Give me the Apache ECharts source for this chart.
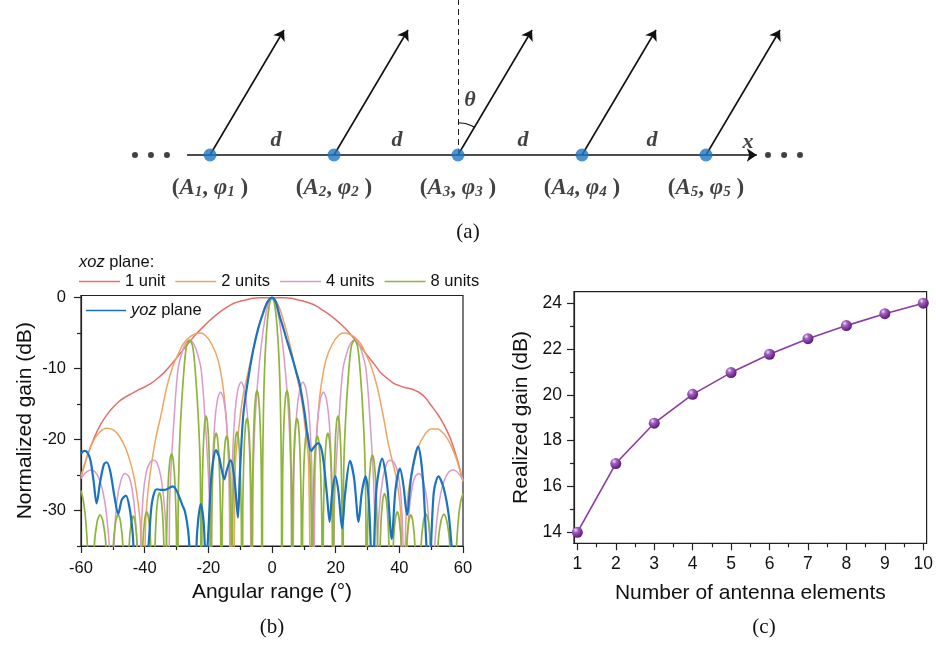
<!DOCTYPE html>
<html><head><meta charset="utf-8">
<script src="https://cdn.jsdelivr.net/npm/echarts@6/dist/echarts.min.js"></script>
<style>html,body{margin:0;padding:0;background:#fff}#c{width:936px;height:646px}</style>
</head><body><div id="c"></div>
<script>
// ---------------- (a) schematic data ----------------
const elemX = [1, 2, 3, 4, 5];              // element index positions (units of d)
const elemIdx = ['1', '2', '3', '4', '5'];
const arrowDX = 0.597, arrowDY = 1.008;     // beam direction offset
const dotsLeft = [0.395, 0.524, 0.653];
const dotsRight = [5.5, 5.63, 5.758];
const dLabelX = [1.532, 2.508, 3.524, 4.565];
const arcPts = [[3, 0.26], [3.045, 0.256], [3.089, 0.244], [3.13, 0.225]];

// ---------------- (b) radiation patterns ----------------
const xTicksB = [-60, -40, -20, 0, 20, 40, 60];
const xMinorB = [-50, -30, -10, 10, 30, 50];
const yTicksB = [-30, -20, -10, 0];
const yMinorB = [-35, -25, -15, -5];

const unit1 = [[-60,-25.2],[-58,-22.3],[-56,-19.9],[-54,-18.0],[-52,-16.6],[-50,-15.5],[-48,-14.6],[-46,-14.0],[-44,-13.5],[-42,-13.0],[-40,-12.6],[-38,-12.1],[-36,-11.4],[-34,-10.6],[-32,-9.6],[-30,-8.5],[-28,-7.4],[-26,-6.3],[-24,-5.2],[-22,-4.3],[-20,-3.4],[-18,-2.6],[-16,-1.9],[-14,-1.3],[-12,-0.8],[-10,-0.5],[-8,-0.3],[-6,-0.1],[-4,0],[-2,0],[0,0],
[2,0],[4,0],[6,-0.1],[8,-0.3],[10,-0.5],[12,-0.8],[14,-1.2],[16,-1.8],[18,-2.4],[20,-3.1],[22,-3.9],[24,-4.8],[26,-5.9],[28,-7.0],[30,-8.2],[32,-9.3],[34,-10.5],[36,-11.3],[38,-12.0],[40,-12.4],[42,-12.7],[44,-12.9],[46,-13.3],[48,-14.0],[50,-15.2],[52,-16.4],[54,-17.9],[56,-19.8],[58,-22.5],[60,-25.9]];

const unit2 = [[-60,-25.2],[-58,-22.2],[-56,-20.1],[-54,-18.9],[-52,-18.4],[-50,-18.6],[-48,-19.5],[-46,-21.2],[-44,-24.0],[-42.5,-27.5],[-41.3,-32.5],[-40.5,-60],[-39.8,-33],[-39,-27.5],[-37.9,-23.6],[-36.5,-19.8],[-35,-16.8],[-33,-12.5],[-31,-9.5],[-29.5,-8.0],[-28,-6.6],[-26,-5.6],[-24,-5.1],[-22.5,-5.0],[-21,-5.3],[-19,-6.5],[-17,-8.7],[-15.5,-12.2],[-14.5,-16.3],[-13.5,-23.5],[-12.5,-60],[-11.5,-23.5],[-10.2,-17.5],[-9,-13.6],[-7.5,-10.5],[-6,-7.3],[-4,-3.8],[-2,-1.1],[0,0],
[2,-1.1],[4,-3.8],[6,-7.3],[7.5,-10.5],[9,-13.6],[10.2,-17.5],[11.5,-23.5],[12.5,-60],[13.5,-23.5],[14.5,-16.3],[15.5,-12.2],[17,-8.7],[19,-6.5],[21,-5.3],[22.5,-5.0],[24,-5.1],[26,-5.6],[28,-6.6],[29.5,-8.0],[31,-9.5],[33,-12.5],[35,-16.8],[36.5,-20.5],[37.9,-23.2],[39.3,-26],[40.5,-31],[41.3,-60],[42,-32],[42.8,-27.5],[44,-24.5],[46,-21.0],[48,-19.3],[50,-18.5],[52,-18.5],[54,-19.2],[56,-20.6],[58,-22.8],[60,-25.9]];

const unit4 = [[-60,-25.5],[-59,-24.9],[-58,-24.5],[-57,-24.3],[-56,-24.4],[-55,-24.9],[-54,-25.9],[-53,-27.6],[-52,-30.5],[-51,-36],[-50.3,-60],[-49.6,-35],[-48.8,-29],[-47.6,-26],[-46.2,-24.8],[-45,-25.2],[-44,-26.8],[-43,-30.5],[-42.3,-37],[-41.8,-60],[-41.2,-35],[-40.5,-28],[-39.5,-24.6],[-38.3,-23.2],[-37.2,-22.9],[-36.1,-23.3],[-34.8,-25.5],[-33.6,-30.5],[-33.0,-38],[-32.6,-60],[-32.2,-30],[-31.7,-24],[-30.8,-17.3],[-29.5,-10],[-27.9,-7.2],[-26.9,-6.3],[-25.9,-6.0],[-24.9,-6.3],[-23.9,-7.2],[-22.3,-10],[-21.0,-17.3],[-20.1,-24],[-19.6,-30],[-19.3,-60],[-18.86,-26.5],[-18.04,-17.9],[-17.1,-14.3],[-16.15,-13.3],[-15.2,-14.3],[-14.26,-17.9],[-13.44,-26.5],[-13.0,-60],[-12.54,-25.1],[-11.68,-16.5],[-10.69,-12.9],[-9.7,-11.9],[-8.71,-12.9],[-7.72,-16.5],[-6.86,-25.1],[-6.4,-60],[-6.1,-30],[-5.5,-19],[-4.5,-11.9],[-3,-5.4],[-1.5,-1.4],[0,0],
[1.5,-1.4],[3,-5.4],[4.5,-11.9],[5.5,-19],[6.1,-30],[6.4,-60],[6.86,-25.1],[7.72,-16.5],[8.71,-12.9],[9.7,-11.9],[10.69,-12.9],[11.68,-16.5],[12.54,-25.1],[13.0,-60],[13.44,-26.5],[14.26,-17.9],[15.2,-14.3],[16.15,-13.3],[17.1,-14.3],[18.04,-17.9],[18.86,-26.5],[19.3,-60],[19.6,-30],[20.1,-24],[21.0,-17.3],[22.3,-10],[23.9,-7.2],[24.9,-6.3],[25.9,-6.0],[26.9,-6.3],[27.9,-7.2],[29.5,-10],[30.8,-17.3],[31.7,-24],[32.2,-30],[32.6,-60],[33.0,-38],[33.6,-30.5],[34.8,-25.5],[36.1,-23.3],[37.2,-22.9],[38.3,-23.2],[39.5,-24.6],[40.5,-28],[41.2,-35],[41.8,-60],[42.3,-37],[43,-30.5],[44,-26.8],[45,-25.2],[46.2,-24.8],[47.6,-26],[48.8,-29],[49.6,-35],[50.3,-60],[51,-36],[52,-30.5],[53,-27.6],[54,-25.9],[55,-24.9],[56,-24.4],[57,-24.3],[58,-24.5],[59,-25.0],[60,-25.7]];

const unit8 = [[-60,-27.2],[-59.2,-28.8],[-58.4,-32],[-57.7,-38],[-57.1,-60],
[-55.86,-35.2],[-54.93,-31.6],[-54.0,-30.6],[-53.07,-31.6],[-52.14,-35.2],[-50.9,-60],
[-49.88,-35.2],[-49.12,-31.6],[-48.35,-30.6],[-47.58,-31.6],[-46.82,-35.2],[-45.8,-60],
[-44.92,-35.4],[-44.26,-31.8],[-43.6,-30.8],[-42.94,-31.8],[-42.28,-35.4],[-41.4,-60],
[-40.58,-34.8],[-39.97,-31.2],[-39.35,-30.2],[-38.74,-31.2],[-38.12,-34.8],[-37.3,-60],
[-37.03,-40.7],[-36.52,-32.1],[-35.94,-28.5],[-35.35,-27.5],[-34.77,-28.5],[-34.18,-32.1],[-33.67,-40.7],[-33.4,-60],
[-33.14,-35.2],[-32.66,-26.6],[-32.1,-23.0],[-31.55,-22.0],[-31.0,-23.0],[-30.44,-26.6],[-29.96,-35.2],[-29.7,-60],
[-29.5,-31],[-29.2,-23],[-28.6,-16.5],[-27.8,-11],[-26.9,-6.9],[-25.9,-6.0],[-24.9,-6.9],[-24.0,-11],[-23.2,-16.5],[-22.6,-23],[-22.4,-31],[-22.2,-60],
[-21.99,-29.9],[-21.6,-21.3],[-21.15,-17.7],[-20.7,-16.7],[-20.25,-17.7],[-19.8,-21.3],[-19.41,-29.9],[-19.2,-60],
[-18.97,-32.3],[-18.54,-23.7],[-18.05,-20.1],[-17.55,-19.1],[-17.05,-20.1],[-16.56,-23.7],[-16.13,-32.3],[-15.9,-60],
[-15.67,-32.7],[-15.24,-24.1],[-14.75,-20.5],[-14.25,-19.5],[-13.75,-20.5],[-13.26,-24.1],[-12.83,-32.7],[-12.6,-60],
[-12.38,-32.1],[-11.96,-23.5],[-11.48,-19.9],[-11.0,-18.9],[-10.52,-19.9],[-10.04,-23.5],[-9.62,-32.1],[-9.4,-60],
[-9.18,-30.2],[-8.78,-21.6],[-8.32,-18.0],[-7.85,-17.0],[-7.38,-18.0],[-6.92,-21.6],[-6.52,-30.2],[-6.3,-60],
[-6.08,-26.3],[-5.66,-17.7],[-5.18,-14.1],[-4.7,-13.1],[-4.22,-14.1],[-3.74,-17.7],[-3.32,-26.3],[-3.1,-60],
[-2.95,-25.4],[-2.65,-15.2],[-2.2,-8.6],[-1.55,-3.9],[-0.8,-0.9],[0,0],
[0.8,-0.9],[1.55,-3.9],[2.2,-8.6],[2.65,-15.2],[2.95,-25.4],[3.1,-60],
[3.32,-26.3],[3.74,-17.7],[4.22,-14.1],[4.7,-13.1],[5.18,-14.1],[5.66,-17.7],[6.08,-26.3],[6.3,-60],
[6.52,-30.2],[6.92,-21.6],[7.38,-18.0],[7.85,-17.0],[8.32,-18.0],[8.78,-21.6],[9.18,-30.2],[9.4,-60],
[9.62,-32.1],[10.04,-23.5],[10.52,-19.9],[11.0,-18.9],[11.48,-19.9],[11.96,-23.5],[12.38,-32.1],[12.6,-60],
[12.83,-32.7],[13.26,-24.1],[13.75,-20.5],[14.25,-19.5],[14.75,-20.5],[15.24,-24.1],[15.67,-32.7],[15.9,-60],
[16.13,-32.3],[16.56,-23.7],[17.05,-20.1],[17.55,-19.1],[18.05,-20.1],[18.54,-23.7],[18.97,-32.3],[19.2,-60],
[19.41,-29.9],[19.8,-21.3],[20.25,-17.7],[20.7,-16.7],[21.15,-17.7],[21.6,-21.3],[21.99,-29.9],[22.2,-60],
[22.4,-31],[22.6,-23],[23.2,-16.5],[24.0,-11],[24.9,-6.9],[25.9,-6.0],[26.9,-6.9],[27.8,-11],[28.6,-16.5],[29.2,-23],[29.5,-31],[29.7,-60],
[29.96,-35.2],[30.44,-26.8],[31.0,-23.2],[31.55,-22.2],[32.1,-23.2],[32.66,-26.8],[33.14,-35.2],[33.4,-60],
[33.67,-40.7],[34.18,-32.2],[34.77,-28.6],[35.35,-27.6],[35.94,-28.6],[36.52,-32.2],[37.03,-40.7],[37.3,-60],
[38.12,-34.8],[38.74,-31.2],[39.35,-30.2],[39.97,-31.2],[40.58,-34.8],[41.4,-60],
[42.28,-35.2],[42.94,-31.6],[43.6,-30.6],[44.26,-31.6],[44.92,-35.2],[45.8,-60],
[46.82,-35.1],[47.58,-31.5],[48.35,-30.5],[49.12,-31.5],[49.88,-35.1],[50.9,-60],
[52.14,-35.1],[53.07,-31.5],[54.0,-30.5],[54.93,-31.5],[55.86,-35.1],[57.1,-60],
[57.7,-38],[58.4,-32],[59.2,-28.9],[60,-27.6]];

const yozPlane = [[-60,-22.0],[-59,-21.6],[-58,-21.8],[-57,-23.0],[-56,-26.0],[-55.1,-29.0],[-54,-26.0],[-52.8,-23.5],[-51.9,-23.2],[-50.8,-24.5],[-49.5,-28],[-48.3,-30.5],[-47.2,-28.5],[-45.9,-27.9],[-44.8,-29.5],[-43.8,-33],[-43,-38],[-41,-42],[-39,-36],[-38,-30],[-37.2,-27.8],[-36.2,-27.0],[-35,-27.1],[-33.6,-27.1],[-32.2,-26.8],[-31.2,-26.6],[-30.2,-27.0],[-29.2,-28.0],[-28.2,-29.2],[-27.3,-30.2],[-26.3,-33],[-25.5,-38],[-24.5,-42],[-23.5,-33],[-22.4,-29.1],[-21.5,-31.5],[-20.7,-38],[-20,-33],[-19,-25],[-17.6,-21.5],[-16.6,-22.5],[-15.8,-24.3],[-15.0,-25.6],[-14.2,-24.3],[-13.0,-22.9],[-12.0,-24.8],[-11.2,-28.5],[-10.7,-31],[-10.1,-25],[-9,-16.4],[-7.5,-11.5],[-5.9,-7.4],[-4.3,-4.3],[-2.8,-2.2],[-1.4,-0.6],[0,0],
[1.2,-0.6],[2.4,-2.6],[3.5,-4.2],[4.6,-5.9],[5.7,-7.5],[6.7,-9.0],[7.7,-10.6],[8.7,-12.2],[9.5,-14.2],[10.3,-16.4],[11.2,-19.5],[12.3,-21.6],[13.3,-21.0],[14.5,-20.5],[15.5,-21.3],[16.3,-23.5],[17.3,-28],[18.1,-31.6],[18.9,-27.5],[19.9,-25.2],[20.9,-27.5],[22.0,-32.5],[23.0,-27.5],[24.5,-23.0],[25.8,-25.5],[27.2,-31.6],[28.2,-27.5],[29.4,-25.2],[30.4,-28.5],[31.6,-40],[32.8,-27],[34.6,-22.7],[36.2,-26.5],[37.6,-34.0],[38.8,-27.0],[40.2,-24.1],[41.3,-26.5],[42.4,-30.6],[43.8,-25],[45.9,-21.0],[47.4,-25.5],[49.3,-40],[50.8,-27.5],[52.3,-25.2],[53.9,-26.8],[55.5,-30.6],[57.8,-40],[58.8,-38],[60,-36]];

// ---------------- (c) realized gain ----------------
const elementsC = [1, 2, 3, 4, 5, 6, 7, 8, 9, 10];
const gainC = [14.0, 17.0, 18.76, 20.02, 20.97, 21.77, 22.45, 23.02, 23.54, 24.0];
const xMinorC = [1.5, 2.5, 3.5, 4.5, 5.5, 6.5, 7.5, 8.5, 9.5];
const yTicksC = [14, 16, 18, 20, 22, 24];
const yMinorC = [15, 17, 19, 21, 23];

// ---------------- chart ----------------
const chart = echarts.init(document.getElementById('c'), null, {renderer: 'canvas'});
const SANS = '"Liberation Sans", Arial, sans-serif';
const SERIF = '"Liberation Serif", "Times New Roman", serif';
const AX = '#222';
const FS_TICK_B = 16.5, FS_TICK_C = 17.5, FS_NAME = 21, FS_LEG = 16.5;

const serifBI = {fontFamily: SERIF, fontStyle: 'italic', fontWeight: 'bold', fontSize: 23, color: '#111'};
const elemLabelData = elemX.map((x, i) => ({
  value: [x, -0.266],
  label: {formatter: '{p|(}{b|A}{s|' + elemIdx[i] + '}{p|, }{b|φ}{s|' + elemIdx[i] + '}{p| )}'}
}));
const textData = dLabelX.map(x => ({value: [x, 0.121], label: {formatter: '{b|d}'}}))
  .concat([{value: [5.339, 0.105], label: {formatter: '{b|x}'}},
           {value: [3.097, 0.444], label: {formatter: '{b|θ}'}}]);

function minorAxis(grid, vals, min, max, pos) {
  return {gridIndex: grid, type: 'value', min: min, max: max, position: pos,
    axisLine: {show: false, onZero: false}, axisLabel: {show: false}, splitLine: {show: false},
    axisTick: {show: true, length: 4, customValues: vals, lineStyle: {color: AX, width: 1.2}}};
}
const legendIcon = 'path://M0,0 L40,0 L40,1.6 L0,1.6 Z';

const option = {
  animation: false,
  backgroundColor: '#fff',
  title: [{text: '{i|xoz} plane:', left: 79, top: 254, padding: 0,
    textStyle: {fontFamily: SANS, fontSize: FS_LEG, fontWeight: 'normal', color: '#111',
      rich: {i: {fontFamily: SANS, fontSize: FS_LEG, fontStyle: 'italic', color: '#111'}}}}],
  legend: [
    {data: ['1 unit', '2 units', '4 units', '8 units'], left: 79, top: 273, itemWidth: 41, itemHeight: 2,
     icon: legendIcon, itemGap: 10, padding: 0, textStyle: {fontFamily: SANS, fontSize: FS_LEG, color: '#111'}},
    {data: ['yoz plane'], left: 86, top: 302, itemWidth: 40, itemHeight: 2.5, padding: 0, icon: legendIcon,
     formatter: n => '{i|yoz} plane',
     textStyle: {fontFamily: SANS, fontSize: FS_LEG, color: '#111',
       rich: {i: {fontFamily: SANS, fontSize: FS_LEG, fontStyle: 'italic', color: '#111'}}}}
  ],
  graphic: [
    {type: 'text', x: 468, y: 232, style: {text: '(a)', font: '21px ' + SERIF, fill: '#111', textAlign: 'center', textVerticalAlign: 'middle'}},
    {type: 'text', x: 272, y: 627, style: {text: '(b)', font: '21px ' + SERIF, fill: '#111', textAlign: 'center', textVerticalAlign: 'middle'}},
    {type: 'text', x: 764, y: 627, style: {text: '(c)', font: '21px ' + SERIF, fill: '#111', textAlign: 'center', textVerticalAlign: 'middle'}}
  ],
  grid: [
    {left: 0, right: 0, top: 0, height: 250},
    {left: 81, right: 473, top: 295.5, bottom: 100, show: true, borderColor: AX, borderWidth: 1.2, backgroundColor: 'transparent'},
    {left: 574, right: 3.3, top: 291.7, bottom: 102.7, show: true, borderColor: AX, borderWidth: 1.2, backgroundColor: 'transparent'}
  ],
  xAxis: [
    {gridIndex: 0, type: 'value', min: -0.6935, max: 6.855, show: false},
    {gridIndex: 1, type: 'value', min: -60, max: 60, position: 'bottom',
     name: 'Angular range (°)', nameLocation: 'middle', nameGap: 36,
     nameTextStyle: {fontFamily: SANS, fontSize: FS_NAME, color: '#111'},
     axisLine: {show: true, onZero: false, lineStyle: {color: AX, width: 1.2}},
     axisTick: {show: true, length: 7, customValues: xTicksB, lineStyle: {color: AX, width: 1.2}},
     axisLabel: {customValues: xTicksB, fontFamily: SANS, fontSize: FS_TICK_B, color: '#111', margin: 14},
     splitLine: {show: false}},
    minorAxis(1, xMinorB, -60, 60, 'bottom'),
    {gridIndex: 2, type: 'value', min: 0.913, max: 10.087, position: 'bottom',
     name: 'Number of antenna elements', nameLocation: 'middle', nameGap: 39,
     nameTextStyle: {fontFamily: SANS, fontSize: FS_NAME, color: '#111'},
     axisLine: {show: true, onZero: false, lineStyle: {color: AX, width: 1.2}},
     axisTick: {show: true, length: 7, customValues: elementsC, lineStyle: {color: AX, width: 1.2}},
     axisLabel: {customValues: elementsC, fontFamily: SANS, fontSize: FS_TICK_C, color: '#111', margin: 12},
     splitLine: {show: false}},
    minorAxis(2, xMinorC, 0.913, 10.087, 'bottom')
  ],
  yAxis: [
    {gridIndex: 0, type: 'value', min: -0.766, max: 1.25, show: false},
    {gridIndex: 1, type: 'value', min: -35, max: 0.3, position: 'left',
     name: 'Normalized gain (dB)', nameLocation: 'middle', nameGap: 45,
     nameTextStyle: {fontFamily: SANS, fontSize: FS_NAME, color: '#111'},
     axisLine: {show: true, onZero: false, lineStyle: {color: AX, width: 1.2}},
     axisTick: {show: true, length: 7, customValues: yTicksB, lineStyle: {color: AX, width: 1.2}},
     axisLabel: {customValues: yTicksB, fontFamily: SANS, fontSize: FS_TICK_B, color: '#111', margin: 15},
     splitLine: {show: false}},
    minorAxis(1, yMinorB, -35, 0.3, 'left'),
    {gridIndex: 2, type: 'value', min: 13.52, max: 24.5, position: 'left',
     name: 'Realized gain (dB)', nameLocation: 'middle', nameGap: 42,
     nameTextStyle: {fontFamily: SANS, fontSize: FS_NAME, color: '#111'},
     axisLine: {show: true, onZero: false, lineStyle: {color: AX, width: 1.2}},
     axisTick: {show: true, length: 7, customValues: yTicksC, lineStyle: {color: AX, width: 1.2}},
     axisLabel: {customValues: yTicksC, fontFamily: SANS, fontSize: FS_TICK_C, color: '#111', margin: 12},
     splitLine: {show: false}},
    minorAxis(2, yMinorC, 13.52, 24.5, 'left')
  ],
  series: [
    // ----- (a) -----
    {type: 'lines', name: 'axisLine', coordinateSystem: 'cartesian2d', xAxisIndex: 0, yAxisIndex: 0,
     symbol: ['none', 'arrow'], symbolSize: [6, 10], silent: true,
     lineStyle: {color: '#111', width: 1.6, opacity: 1},
     data: [{coords: [[0.815, 0], [5.41, 0]]}]},
    {type: 'lines', name: 'beams', coordinateSystem: 'cartesian2d', xAxisIndex: 0, yAxisIndex: 0,
     symbol: ['none', 'arrow'], symbolSize: [6, 10], silent: true,
     lineStyle: {color: '#111', width: 1.6, opacity: 1},
     data: elemX.map(x => ({coords: [[x, 0], [x + arrowDX, arrowDY]]}))},
    {type: 'lines', name: 'normal', coordinateSystem: 'cartesian2d', xAxisIndex: 0, yAxisIndex: 0,
     symbol: 'none', silent: true,
     lineStyle: {color: '#222', width: 1, type: [6, 4], opacity: 1},
     data: [{coords: [[3, 0], [3, 1.25]]}]},
    {type: 'line', name: 'arc', xAxisIndex: 0, yAxisIndex: 0, data: arcPts, smooth: true, symbol: 'none',
     silent: true, lineStyle: {color: '#111', width: 1.2}},
    {type: 'scatter', name: 'elements', xAxisIndex: 0, yAxisIndex: 0, symbolSize: 13, silent: true,
     itemStyle: {color: '#1f77c4'}, data: elemX.map(x => [x, 0])},
    {type: 'scatter', name: 'ellipsis', xAxisIndex: 0, yAxisIndex: 0, symbolSize: 6, silent: true,
     itemStyle: {color: '#111'}, data: dotsLeft.concat(dotsRight).map(x => [x, 0])},
    {type: 'scatter', name: 'elemLabels', xAxisIndex: 0, yAxisIndex: 0, symbolSize: 1, silent: true,
     itemStyle: {color: 'rgba(0,0,0,0)'},
     label: {show: true, position: 'inside', color: '#111',
       rich: {p: {fontFamily: SERIF, fontWeight: 'bold', fontSize: 23, color: '#111'},
              b: serifBI,
              s: {fontFamily: SERIF, fontStyle: 'italic', fontWeight: 'bold', fontSize: 15, color: '#111', padding: [9, 0, 0, 0]}}},
     data: elemLabelData},
    {type: 'scatter', name: 'texts', xAxisIndex: 0, yAxisIndex: 0, symbolSize: 1, silent: true,
     itemStyle: {color: 'rgba(0,0,0,0)'},
     label: {show: true, position: 'inside', color: '#111', rich: {b: Object.assign({}, serifBI, {fontSize: 22})}},
     data: textData},
    // ----- (b) -----
    {type: 'line', name: '1 unit', xAxisIndex: 1, yAxisIndex: 1, data: unit1, symbol: 'none', smooth: 0.3,
     lineStyle: {color: '#e3706c', width: 1.5}, itemStyle: {color: '#e3706c'}},
    {type: 'line', name: '2 units', xAxisIndex: 1, yAxisIndex: 1, data: unit2, symbol: 'none', smooth: 0.3,
     lineStyle: {color: '#efa460', width: 1.5}, itemStyle: {color: '#efa460'}},
    {type: 'line', name: '4 units', xAxisIndex: 1, yAxisIndex: 1, data: unit4, symbol: 'none', smooth: 0.3,
     lineStyle: {color: '#da9acb', width: 1.5}, itemStyle: {color: '#da9acb'}},
    {type: 'line', name: '8 units', xAxisIndex: 1, yAxisIndex: 1, data: unit8, symbol: 'none', smooth: 0.3,
     lineStyle: {color: '#8fb43a', width: 1.7}, itemStyle: {color: '#8fb43a'}},
    {type: 'line', name: 'yoz plane', xAxisIndex: 1, yAxisIndex: 1, data: yozPlane, symbol: 'none', smooth: 0.3,
     lineStyle: {color: '#1a72c0', width: 2.2}, itemStyle: {color: '#1a72c0'}},
    // ----- (c) -----
    {type: 'line', name: 'gain', xAxisIndex: 3, yAxisIndex: 3,
     data: elementsC.map((n, i) => [n, gainC[i]]),
     symbol: 'circle', symbolSize: 11, lineStyle: {color: '#8a3aa6', width: 1.6},
     itemStyle: {color: new echarts.graphic.RadialGradient(0.35, 0.3, 0.75, [
       {offset: 0, color: '#f3dcf8'}, {offset: 0.3, color: '#a460c2'}, {offset: 1, color: '#561270'}])}}
  ]
};
chart.setOption(option);
</script></body></html>
